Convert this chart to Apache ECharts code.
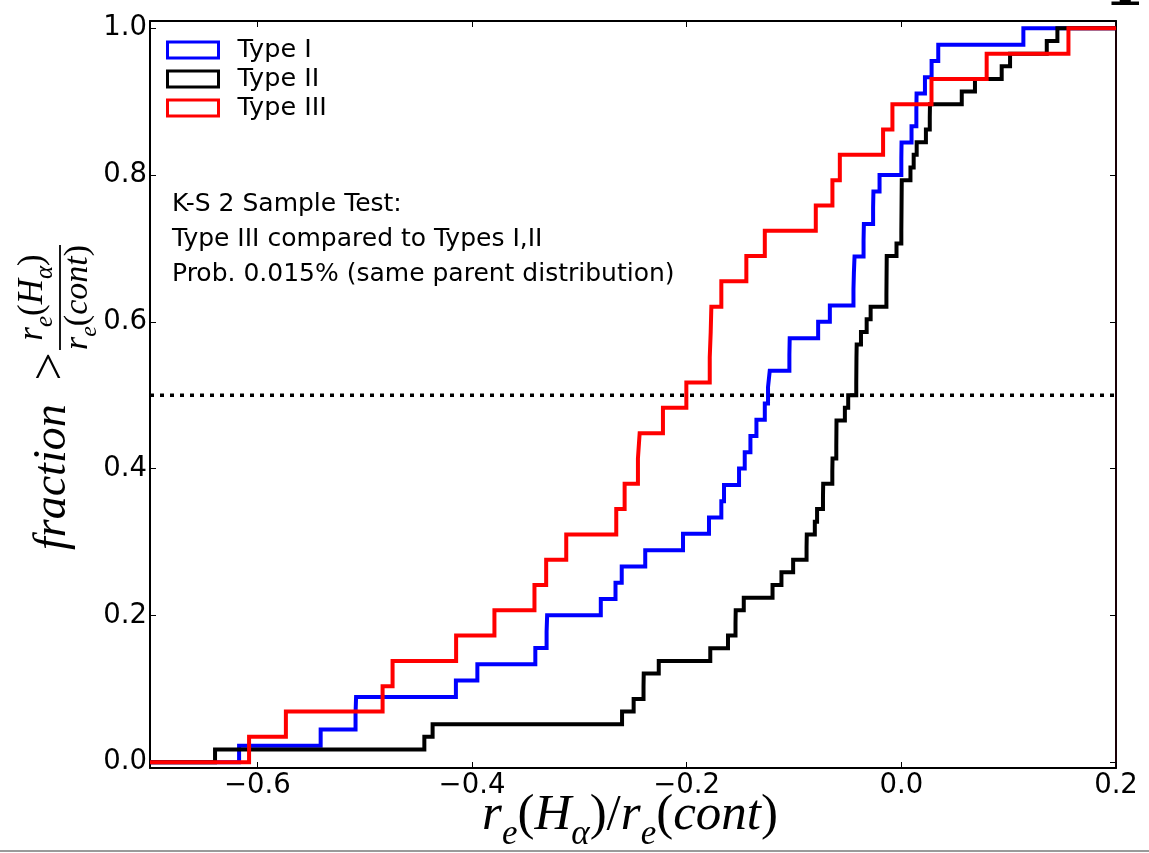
<!DOCTYPE html>
<html>
<head>
<meta charset="utf-8">
<script src="https://cdn.jsdelivr.net/npm/echarts@6/dist/echarts.min.js"></script>
<style>
html,body{margin:0;padding:0;background:#fff;}
#chart{width:1149px;height:853px;}
</style>
</head>
<body>
<div id="chart"></div>
<script>
// ---- data (cumulative step curves) ----
const typeI_x = [-0.617,-0.541,-0.5085,-0.508,-0.415,-0.395,-0.341,-0.3305,-0.330,-0.280,
  -0.2663,-0.2605,-0.2386,-0.2034,-0.1792,-0.1677,-0.1652,-0.1512,-0.1459,-0.1406,
  -0.1350,-0.1272,-0.1242,-0.1226,-0.1043,-0.1040,-0.0775,-0.0666,-0.0446,-0.0442,
  -0.0436,-0.0352,-0.0349,-0.0263,-0.0260,-0.0203,0.0000,0.0002,0.0095,0.0140,
  0.0142,0.0220,0.0282,0.0344,0.1137];
const typeI_y = [0.0222,0.0444,0.0667,0.0889,0.1111,0.1333,0.1556,0.1778,0.2000,0.2222,
  0.2444,0.2667,0.2889,0.3111,0.3333,0.3556,0.3778,0.4000,0.4222,0.4444,
  0.4667,0.4889,0.5111,0.5333,0.5556,0.5778,0.6000,0.6222,0.6444,0.6667,
  0.6889,0.7111,0.7333,0.7556,0.7778,0.8000,0.8222,0.8444,0.8667,0.8889,
  0.9111,0.9333,0.9556,0.9778,1.0000];

const typeII_x = [-0.6394,-0.4444,-0.4367,-0.2602,-0.2494,-0.2402,-0.2400,-0.2260,-0.1780,-0.1615,
  -0.1545,-0.1543,-0.1468,-0.1200,-0.1117,-0.1008,-0.0883,-0.0881,-0.0806,-0.0785,
  -0.0730,-0.0728,-0.0643,-0.0641,-0.0606,-0.0605,-0.0604,-0.0526,-0.0495,-0.0420,
  -0.0419,-0.0418,-0.0416,-0.0376,-0.0323,-0.0286,-0.0139,-0.0138,-0.0137,-0.0136,
  -0.0045,0.0000,0.0001,0.0002,0.0003,0.0004,0.0085,0.0115,0.0143,0.0229,
  0.0265,0.0267,0.0563,0.0686,0.0935,0.1013,0.1355,0.1454];
const typeII_y = [0.0172,0.0345,0.0517,0.0690,0.0862,0.1034,0.1207,0.1379,0.1552,0.1724,
  0.1897,0.2069,0.2241,0.2414,0.2586,0.2759,0.2931,0.3103,0.3276,0.3448,
  0.3621,0.3793,0.3966,0.4138,0.4310,0.4483,0.4655,0.4828,0.5000,0.5172,
  0.5345,0.5517,0.5690,0.5862,0.6034,0.6207,0.6379,0.6552,0.6724,0.6897,
  0.7069,0.7241,0.7414,0.7586,0.7759,0.7931,0.8103,0.8276,0.8448,0.8621,
  0.8793,0.8966,0.9138,0.9310,0.9483,0.9655,0.9828,1.0000];

const typeIII_x = [-0.6077,-0.5734,-0.4833,-0.4740,-0.4148,-0.3791,-0.3418,-0.3309,-0.3122,-0.2656,
  -0.2578,-0.2454,-0.2438,-0.2221,-0.2003,-0.1785,-0.1776,-0.1770,-0.1677,-0.1444,
  -0.1272,-0.0797,-0.0642,-0.0573,-0.0170,-0.0083,0.0281,0.0795,0.1557];
const typeIII_y = [0.0345,0.0690,0.1034,0.1379,0.1724,0.2069,0.2414,0.2759,0.3103,0.3448,
  0.3793,0.4138,0.4483,0.4828,0.5172,0.5517,0.5862,0.6207,0.6552,0.6897,
  0.7241,0.7586,0.7931,0.8276,0.8621,0.8966,0.9310,0.9655,1.0000];

const seriesNames = ['Type I','Type II','Type III'];
const xTicks = [-0.6,-0.4,-0.2,0.0,0.2];
const yTicks = [0.0,0.2,0.4,0.6,0.8,1.0];
const xRange = [-0.7, 0.2];
const yRange = [-0.008, 1.01];
const medianLevel = 0.5;
const ksLines = ['K-S 2 Sample Test:', 'Type III compared to Types I,II', 'Prob. 0.015% (same parent distribution)'];

// ---- build ----
function stepData(xs, ys){
  const d = [[xRange[0], 0]];
  for (let i = 0; i < xs.length; i++) d.push([xs[i], ys[i]]);
  d.push([xRange[1], ys[ys.length-1]]);
  return d;
}
const fmt = v => (v < 0 ? '\u2212' : '') + Math.abs(v).toFixed(1);
const colors = ['#0000ff', '#000000', '#ff0000'];
const sans = 'DejaVu Sans';
const serif = 'Liberation Serif';

const chart = echarts.init(document.getElementById('chart'), null, {renderer:'canvas'});

function xAxisCfg(pos, showLabel){
  return {
    type:'value', position:pos, min:xRange[0], max:xRange[1],
    axisLine:{show:true, onZero:false, lineStyle:{color:'#000', width:2}},
    axisTick:{show:true, inside:true, length:6, customValues:xTicks, lineStyle:{color:'#000', width:1}},
    axisLabel:{show:showLabel, customValues:xTicks, formatter:fmt, color:'#000', fontSize:27.5, fontFamily:sans, margin:4},
    splitLine:{show:false}
  };
}
function yAxisCfg(pos, showLabel, lineColor){
  return {
    type:'value', position:pos, min:yRange[0], max:yRange[1],
    axisLine:{show:true, onZero:false, lineStyle:{color:lineColor, width:2}},
    axisTick:{show:true, inside:true, length:6, customValues:yTicks, lineStyle:{color:'#000', width:1}},
    axisLabel:{show:showLabel, customValues:yTicks, formatter:v => v.toFixed(1), color:'#000', fontSize:27.5, fontFamily:sans, margin:3},
    splitLine:{show:false}
  };
}

const curves = [[typeI_x, typeI_y], [typeII_x, typeII_y], [typeIII_x, typeIII_y]];
const series = [{
  name:'median', type:'line', data:[[xRange[0], medianLevel],[xRange[1], medianLevel]],
  symbol:'none', silent:true, z:2,
  lineStyle:{color:'#000', width:3.5, type:[4,6]}
}];
curves.forEach((c, i) => {
  series.push({
    name:seriesNames[i], type:'line', step:'end', data:stepData(c[0], c[1]),
    symbol:'none', z:3+i,
    itemStyle:{color:colors[i]},
    lineStyle:{color:colors[i], width:4, join:'miter', cap:'butt'}
  });
});

function mathRich(mainSize, subSize, subPad){
  return {
    m:{fontFamily:serif, fontStyle:'italic', fontSize:mainSize, fill:'#000', color:'#000'},
    u:{fontFamily:serif, fontSize:mainSize, fill:'#000', color:'#000'},
    s:{fontFamily:serif, fontStyle:'italic', fontSize:subSize, padding:[subPad,0,0,0], fill:'#000', color:'#000'}
  };
}
function txt(x, y, text, style){
  return {type:'text', x:x, y:y, silent:true, style:Object.assign({text:text, fill:'#000'}, style)};
}

const graphic = [];
ksLines.forEach((t, i) => {
  graphic.push(txt(172, 204 + i*35, t, {fontFamily:sans, fontSize:25, align:'left', textAlign:'left', verticalAlign:'middle', textVerticalAlign:'middle'}));
});
// x axis title
graphic.push(txt(630, 816, '{m|r}{s|e}{u|(}{m|H}{s|α}{u|)/}{m|r}{s|e}{u|(}{m|cont}{u|)}',
  {rich:mathRich(51, 35, 38), align:'center', textAlign:'center', verticalAlign:'middle', textVerticalAlign:'middle'}));
// y axis title (rotated)
graphic.push({
  type:'group', x:60, y:550, rotation:Math.PI/2, silent:true,
  children:[
    txt(0, -7.3, 'fraction', {fontFamily:serif, fontStyle:'italic', fontSize:46, align:'left', textAlign:'left', verticalAlign:'middle', textVerticalAlign:'middle'}),
    txt(183.5, -7.8, '>', {fontFamily:serif, fontSize:50, align:'center', textAlign:'center', verticalAlign:'middle', textVerticalAlign:'middle'}),
    {type:'line', silent:true, shape:{x1:200, y1:0, x2:305, y2:0}, style:{stroke:'#000', lineWidth:1.8}},
    txt(252.5, -27, '{m|r}{s|e}{u|(}{m|H}{s|α}{u|)}', {rich:mathRich(35, 25, 24), align:'center', textAlign:'center', verticalAlign:'middle', textVerticalAlign:'middle'}),
    txt(252.5, 18, '{m|r}{s|e}{u|(}{m|cont}{u|)}', {rich:mathRich(34, 24, 24), align:'center', textAlign:'center', verticalAlign:'middle', textVerticalAlign:'middle'})
  ]
});
// cropped panel number at top-right edge
graphic.push(txt(1124, 19, '1', {fontFamily:'DejaVu Serif', fontWeight:'bold', fontSize:60, align:'center', textAlign:'center', verticalAlign:'bottom', textVerticalAlign:'bottom'}));
// bottom border line
graphic.push({type:'rect', silent:true, shape:{x:0, y:850, width:1149, height:2}, style:{fill:'#9a9a9a'}});

chart.setOption({
  animation:false,
  backgroundColor:'#fff',
  grid:{left:150, right:33, top:21, bottom:85, containLabel:false},
  xAxis:[xAxisCfg('bottom', true), xAxisCfg('top', false)],
  yAxis:[yAxisCfg('left', true, '#000'), yAxisCfg('right', false, '#1a0006')],
  legend:{
    show:true, orient:'vertical', left:166, top:37, padding:0,
    icon:'rect', itemWidth:51, itemHeight:16, itemGap:3,
    textStyle:{color:'#000', fontSize:25.5, fontFamily:sans, lineHeight:16, padding:[0,0,0,14]},
    data:seriesNames.map((n, i) => ({name:n, itemStyle:{color:'#ffffff', borderColor:colors[i], borderWidth:3}})),
    selectedMode:false
  },
  series:series,
  graphic:graphic
});
</script>
</body>
</html>
